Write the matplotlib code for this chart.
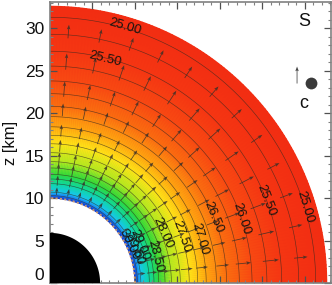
import numpy as np
import matplotlib
matplotlib.use("Agg")
import matplotlib.pyplot as plt
from matplotlib.colors import LinearSegmentedColormap

plt.rcParams['font.family'] = ['Liberation Sans', 'DejaVu Sans']

radii = [10.0, 10.3, 10.7, 11.2, 11.7, 12.8, 14.3, 16.4, 18.4, 20.8, 23.8, 27.3, 31.3, 32.6]
values = [30.6, 30.0, 29.5, 29.25, 29.0, 28.5, 28.0, 27.5, 27.0, 26.5, 26.0, 25.5, 25.0, 24.85]
levels = [25.0, 25.25, 25.5, 25.75, 26.0, 26.25, 26.5, 26.75, 27.0, 27.25, 27.5, 27.75, 28.0,
          28.25, 28.5, 28.75, 29.0, 29.5, 30.0]

cmap_vals = [24.8, 25.5, 26.0, 26.5, 27.0, 27.5, 28.0, 28.5, 29.0, 29.5, 30.0, 30.6]
cmap_cols = ['#f22c12', '#f53612', '#f84a12', '#fa6c10', '#ffa410', '#ffe418', '#b4e820',
             '#30d838', '#10d8a0', '#18c8f0', '#1878f0', '#1038d0']

label_r = [31.4, 27.2, 31.3, 27.3, 23.8, 20.8, 18.4, 16.4, 14.6, 12.8, 11.5, 10.7, 10.4]
label_th = [73.7, 76.2, 16.7, 21, 18.4, 22, 16.4, 19.4, 24, 14, 23, 22, 26]
label_txt = ['25.00', '25.50', '25.00', '25.50', '26.00', '26.50', '27.00', '27.50', '28.00',
             '28.50', '29.00', '29.50', '30.00']

arrow_r = [10.4, 11.5, 12.8, 14.0, 15.5, 17.3, 19.7, 22.0, 25.2, 28.9]
arrow_len = [0.9, 1.2, 1.3, 1.4, 1.4, 1.4, 1.5, 1.8, 1.9, 1.6]
arrow_th = [85.8, 78.5, 71.2, 64, 56.7, 49.4, 42.2, 34.9, 27.6, 20.3, 13, 5.8]

star_r = 5.9
inner_r = 10.0
outer_r = 32.6

fig = plt.figure(figsize=(3.32, 2.85), dpi=100)
W, H = 332, 285
ax = fig.add_axes([50 / W, (H - 283) / H, 281 / W, 281 / H])
ax.set_xlim(0, 33.1)
ax.set_ylim(0, 33.1)

cmap = LinearSegmentedColormap.from_list(
    'field',
    [((v - cmap_vals[0]) / (cmap_vals[-1] - cmap_vals[0]), c) for v, c in zip(cmap_vals, cmap_cols)])

th = np.radians(np.linspace(0, 90, 121))
R, T = np.meshgrid(radii, th)
Z = np.tile(values, (len(th), 1))
X, Y = R * np.cos(T), R * np.sin(T)
ax.pcolormesh(X, Y, Z, shading='gouraud', cmap=cmap, vmin=cmap_vals[0], vmax=cmap_vals[-1],
              rasterized=True, zorder=1)
ax.contour(X, Y, Z, levels=levels, colors='#302820', linewidths=0.45, alpha=0.7, zorder=2)

# inner boundary and star
ax.plot(inner_r * np.cos(th), inner_r * np.sin(th), color='#c89870', lw=1.3, ls=(0, (1.2, 1.2)), zorder=3)
ax.fill(np.r_[0, star_r * np.cos(th)], np.r_[0, star_r * np.sin(th)], color='black', lw=0, zorder=3)

# arrows
xs, ys, us, vs = [], [], [], []
for r, l in zip(arrow_r, arrow_len):
    for a in arrow_th:
        t = np.radians(a)
        xs.append(r * np.cos(t)); ys.append(r * np.sin(t))
        us.append(l * np.cos(t)); vs.append(l * np.sin(t))
ax.quiver(xs, ys, us, vs, angles='xy', scale_units='xy', scale=1, width=0.0028,
          headwidth=4.5, headlength=6, headaxislength=5, color='#3a3028', alpha=0.85, zorder=4)

# contour labels
for r, a, s in zip(label_r, label_th, label_txt):
    t = np.radians(a)
    ax.text(r * np.cos(t), r * np.sin(t), s, rotation=a - 90, rotation_mode='anchor',
            ha='center', va='center', fontsize=9.5, color='#181410', zorder=5)

# reference legend
ax.quiver([29.1], [23.5], [0], [2.0], angles='xy', scale_units='xy', scale=1, width=0.0028,
          headwidth=4.5, headlength=6, headaxislength=5, color='#444444', zorder=4)
ax.plot([30.8], [23.5], 'o', color='#3a3a3a', ms=8.5, mew=0, zorder=4)
ax.text(30.0, 30.8, 'S', fontsize=13, ha='center', va='center', color='#101010')
ax.text(29.9, 21.1, 'c', fontsize=13, ha='center', va='center', color='#101010')

# frame
for s in ax.spines.values():
    s.set_color('#808080')
    s.set_linewidth(1.2)
ax.set_xticks([0, 5, 10, 15, 20, 25, 30])
ax.set_yticks([0, 5, 10, 15, 20, 25, 30])
ax.set_xticks(np.arange(0, 33.1, 1), minor=True)
ax.set_yticks(np.arange(0, 33.1, 1), minor=True)
ax.tick_params(which='major', direction='in', length=5, width=0.9, color='#505050',
               top=True, right=True, labelsize=12.5, pad=4, labelcolor='#101010')
ax.tick_params(which='minor', direction='in', length=2.5, width=0.8, color='#808080',
               top=True, right=True)
ax.set_xticklabels([])
ax.get_yticklabels()[0].set_verticalalignment('bottom')
ax.set_ylabel('z [km]', fontsize=12, labelpad=5, color='#101010')

fig.savefig('out.png', dpi=100)
